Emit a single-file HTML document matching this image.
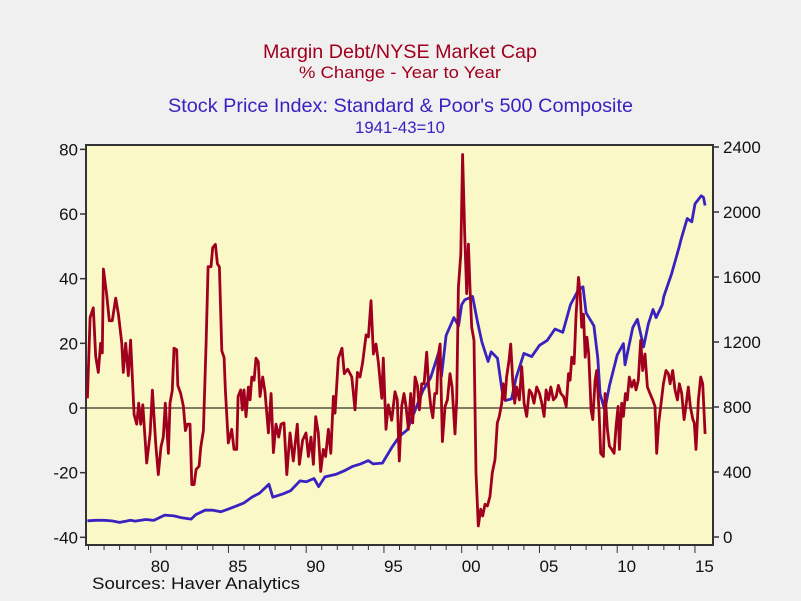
<!DOCTYPE html>
<html><head><meta charset="utf-8"><style>
html,body{margin:0;padding:0;background:#f0f0f0;}
svg{display:block;font-family:"Liberation Sans",sans-serif;}
</style></head><body>
<svg id="chart" width="801" height="601" viewBox="0 0 801 601">
<rect x="0" y="0" width="801" height="601" fill="#f0f0f0"/>
<text x="263" y="58" textLength="274" lengthAdjust="spacingAndGlyphs" font-size="19.5" fill="#a0001e">Margin Debt/NYSE Market Cap</text>
<text x="299" y="78" textLength="202" lengthAdjust="spacingAndGlyphs" font-size="16.5" fill="#a0001e">% Change - Year to Year</text>
<text x="168" y="112" textLength="465" lengthAdjust="spacingAndGlyphs" font-size="19.5" fill="#3a22c0">Stock Price Index: Standard &amp; Poor's 500 Composite</text>
<text x="355" y="133" textLength="90" lengthAdjust="spacingAndGlyphs" font-size="16.5" fill="#3a22c0">1941-43=10</text>
<rect x="86" y="145" width="627" height="400" fill="#fbf8c8" stroke="#333" stroke-width="2"/>
<g id="axes"></g>
<g id="series"></g>
<text x="92" y="589" textLength="208" lengthAdjust="spacingAndGlyphs" font-size="17" fill="#111">Sources:   Haver Analytics</text>
</svg>
<script>
const leftTicks=[80,60,40,20,0,-20,-40];
const rightTicks=[2400,2000,1600,1200,800,400,0];
const xTickYears=[1980,1985,1990,1995,2000,2005,2010,2015];
const xTickLabels=["80","85","90","95","00","05","10","15"];
const marginYears=[1975.93,1976.10,1976.31,1976.46,1976.63,1976.78,1976.89,1976.96,1977.17,1977.34,1977.53,1977.75,1977.92,1978.14,1978.24,1978.39,1978.56,1978.71,1978.93,1979.10,1979.23,1979.36,1979.49,1979.74,1979.96,1980.11,1980.32,1980.49,1980.66,1980.81,1980.94,1981.14,1981.24,1981.39,1981.50,1981.67,1981.74,1981.93,1982.10,1982.23,1982.36,1982.53,1982.64,1982.79,1982.92,1983.11,1983.22,1983.39,1983.56,1983.69,1983.88,1983.99,1984.16,1984.29,1984.42,1984.57,1984.72,1984.80,1984.99,1985.21,1985.36,1985.53,1985.62,1985.79,1985.89,1986.00,1986.13,1986.28,1986.39,1986.50,1986.65,1986.77,1986.92,1987.03,1987.20,1987.35,1987.57,1987.74,1987.89,1988.06,1988.23,1988.38,1988.57,1988.75,1988.96,1989.17,1989.43,1989.56,1989.77,1989.99,1990.14,1990.31,1990.46,1990.61,1990.78,1990.93,1991.10,1991.25,1991.43,1991.58,1991.75,1991.85,1992.07,1992.30,1992.45,1992.67,1992.93,1993.14,1993.29,1993.46,1993.63,1993.85,1994.00,1994.17,1994.32,1994.49,1994.64,1994.86,1994.96,1995.13,1995.28,1995.50,1995.71,1995.86,1995.99,1996.14,1996.29,1996.42,1996.57,1996.72,1996.85,1997.00,1997.15,1997.28,1997.43,1997.58,1997.75,1997.88,1998.01,1998.14,1998.27,1998.39,1998.50,1998.61,1998.76,1998.93,1999.08,1999.25,1999.38,1999.57,1999.68,1999.79,1999.94,2000.06,2000.19,2000.32,2000.43,2000.54,2000.64,2000.79,2000.92,2001.07,2001.22,2001.35,2001.50,2001.65,2001.82,2001.97,2002.14,2002.29,2002.42,2002.57,2002.67,2002.78,2002.89,2003.04,2003.15,2003.28,2003.41,2003.54,2003.71,2003.86,2004.01,2004.18,2004.35,2004.50,2004.65,2004.82,2005.00,2005.15,2005.30,2005.43,2005.58,2005.73,2005.90,2006.07,2006.22,2006.37,2006.55,2006.72,2006.87,2006.97,2007.08,2007.23,2007.36,2007.51,2007.62,2007.72,2007.83,2007.94,2008.05,2008.17,2008.32,2008.43,2008.58,2008.68,2008.83,2008.94,2009.11,2009.22,2009.37,2009.50,2009.65,2009.80,2009.93,2010.06,2010.14,2010.29,2010.40,2010.53,2010.65,2010.78,2010.93,2011.08,2011.21,2011.36,2011.51,2011.64,2011.79,2011.94,2012.11,2012.28,2012.43,2012.54,2012.67,2012.80,2012.97,2013.14,2013.29,2013.40,2013.57,2013.72,2013.87,2014.00,2014.15,2014.30,2014.42,2014.57,2014.70,2014.87,2014.96,2015.07,2015.22,2015.37,2015.50,2015.65];
const marginValues=[3,28,31,16,11,20,17,43,35,27,27,34,29,20,11,20,10,21,-2,-5,1.5,-5,1,-17,-8,5.5,-11,-20.6,-12,-9,1.5,-14,1.5,5.5,18.5,18,7,4.5,0.5,-7,-5,-5,-23.7,-23.7,-19,-18,-12,-7,20,43.7,43.7,49.6,50.6,44.6,43.6,17.7,15.6,6,-10.8,-6.6,-12.8,-12.8,3.6,5.6,-0.6,5.6,-2.7,6.5,2.5,9.6,8.6,15.4,14.3,3.6,9.6,5,-7.7,4.5,-13.8,-5,-9,-5,-4.6,-20.6,-7.7,-16.4,-5,-17.4,-10,-7.7,-15,-9,-17.4,-2.7,-7.7,-19.6,-12.8,-15,-6.6,-14,3.6,-1.6,15.4,18.5,10.6,12,9.6,-0.6,11,9.6,14,22.6,22,33.2,16.7,19.8,14,3,15.4,-6.6,1,-3.8,5,2.5,-16.4,0.5,4.5,0.5,-6.6,4.5,-4.6,9.6,7,-0.6,7.5,7.5,17.3,6.5,0.5,-3,4.5,4.5,16.7,19.8,-10.4,0.5,2.5,10.6,6.5,-8,2.5,37.3,47.6,78.4,53.9,35.4,50.7,36.4,25,20.9,-20,-36.5,-31.3,-33.4,-29.8,-30.3,-27.3,-20,-16,-4.6,-2.6,1.5,7.5,2.5,9.6,14.7,19.8,8.6,1.5,6.5,2.5,12.8,1.5,-2.6,5.6,4.5,1.5,6.5,4.5,1.5,-2.6,5.6,2.5,6.5,2.5,3.5,7,4.5,3.5,0.5,10.6,8.6,15.7,13.7,29,40.4,35.4,25,29,15.7,21.9,16.7,-0.6,-3.6,8.6,11.6,-0.6,-14,-15,4.5,-6.6,-11.8,-12.8,-14,-5.6,0.5,-12.8,1.5,-2.6,4.5,2.5,9.6,6.5,8.6,5.6,8.6,20.9,11.6,16.7,6.5,4.5,2.5,0.5,-14,-4.6,0.5,7.5,11.6,10.6,7.5,11.6,5.6,2.5,7.5,4.5,-3.6,0.5,6.5,0.5,-3.6,-4.6,-12.8,2.5,9.6,7.5,-8];
const spYears=[1975.93,1976.5,1977.0,1977.5,1978.0,1978.7,1979.0,1979.7,1980.2,1980.9,1981.5,1982.0,1982.6,1982.9,1983.5,1984.0,1984.5,1985.0,1985.5,1986.0,1986.5,1987.0,1987.6,1987.85,1988.5,1989.0,1989.6,1990.0,1990.5,1990.8,1991.2,1991.9,1992.5,1993.0,1993.5,1994.0,1994.3,1994.9,1995.5,1996.0,1996.5,1997.0,1997.5,1998.0,1998.5,1998.7,1999.0,1999.5,1999.8,2000.0,2000.2,2000.7,2001.0,2001.3,2001.7,2001.9,2002.3,2002.6,2002.8,2003.2,2003.5,2004.0,2004.5,2005.0,2005.5,2006.0,2006.5,2007.0,2007.5,2007.8,2008.0,2008.5,2008.75,2008.9,2009.2,2009.5,2010.0,2010.4,2010.5,2011.0,2011.3,2011.7,2012.0,2012.3,2012.5,2012.9,2013.0,2013.5,2014.0,2014.1,2014.5,2014.8,2015.0,2015.4,2015.55,2015.65];
const spValues=[100,103,103,99,90,103,98,108,102,135,130,118,110,138,165,165,155,172,190,210,245,270,325,245,265,285,345,340,360,310,370,385,410,435,450,470,450,455,550,620,660,780,900,980,1130,990,1240,1350,1300,1430,1460,1480,1330,1200,1080,1140,1100,900,840,850,980,1130,1110,1180,1210,1280,1260,1430,1520,1540,1380,1300,1100,880,780,930,1120,1190,1060,1290,1340,1170,1310,1400,1350,1430,1480,1620,1790,1830,1960,1940,2050,2100,2090,2040];

const NS='http://www.w3.org/2000/svg';
const X=y=>150.7+(y-1980)*15.55;
const YL=v=>408-v*3.233;
const YR=v=>537-v*0.1625;
function mk(tag,attrs,parent){const e=document.createElementNS(NS,tag);for(const k in attrs)e.setAttribute(k,attrs[k]);parent.appendChild(e);return e;}
const ax=document.getElementById('axes');
const se=document.getElementById('series');
let z=mk('line',{x1:87,x2:712,y1:YL(0),y2:YL(0),stroke:'#000','stroke-width':1},ax);


leftTicks.forEach(v=>{
  const t=mk('line',{x1:80,x2:86,y1:YL(v),y2:YL(v),stroke:'#333','stroke-width':1.5},ax);
  
  
  const l=mk('text',{x:78,y:YL(v)+6,'text-anchor':'end','font-size':17,fill:'#111'},ax);
  l.textContent=v;
  
  
});
rightTicks.forEach(v=>{
  const t=mk('line',{x1:713,x2:719,y1:YR(v),y2:YR(v),stroke:'#333','stroke-width':1.5},ax);
  
  
  const l=mk('text',{x:723,y:YR(v)+6,'font-size':17,fill:'#111'},ax);
  l.textContent=v;
  
  
});
for(let y=1976;y<=2015;y++){
  const major=y%5===0;
  const t=mk('line',{x1:X(y),x2:X(y),y1:546,y2:major?553:550,stroke:'#333','stroke-width':1},ax);
  
  
}
xTickYears.forEach((y,i)=>{
  const l=mk('text',{x:X(y),y:572,'font-size':17,fill:'#111'},ax);
  l.textContent=xTickLabels[i];
  
  
});
const sp=mk('polyline',{points:spYears.map((y,i)=>X(y).toFixed(1)+','+YR(spValues[i]).toFixed(1)).join(' '),fill:'none',stroke:'#3a22c0','stroke-width':2.8,'stroke-linejoin':'round'},se);


const md=mk('polyline',{points:marginYears.map((y,i)=>X(y).toFixed(1)+','+YL(marginValues[i]).toFixed(1)).join(' '),fill:'none',stroke:'#a0001e','stroke-width':2.8,'stroke-linejoin':'round'},se);


</script>
</body></html>
